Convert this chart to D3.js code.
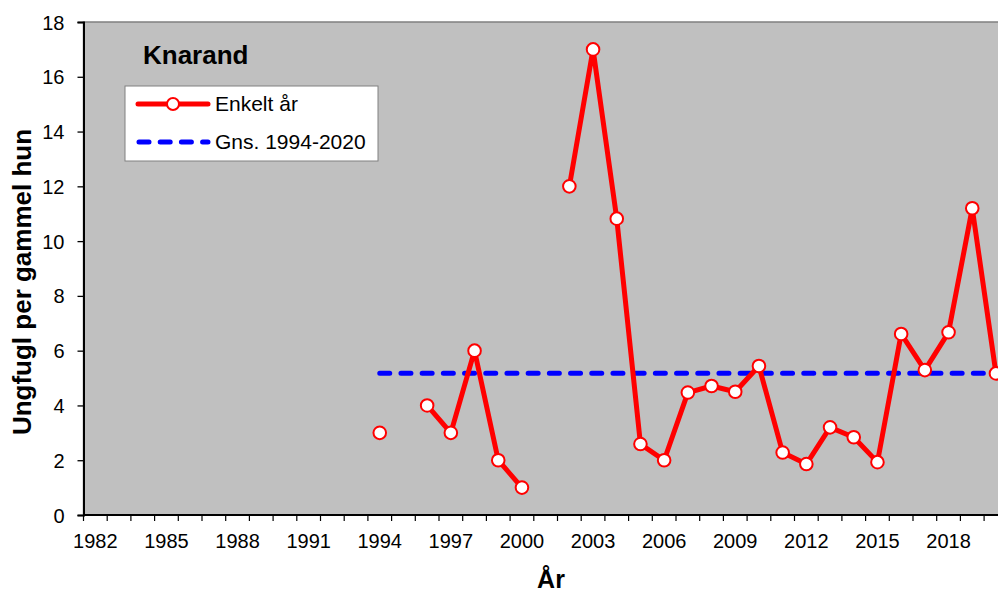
<!DOCTYPE html>
<html>
<head>
<meta charset="utf-8">
<script src="https://cdn.jsdelivr.net/npm/d3@7"></script>
<style>
  body { margin: 0; background: #fff; overflow: hidden; }
  text { font-family: "Liberation Sans", Arial, sans-serif; fill: #000; }
</style>
</head>
<body>
<div id="chart"></div>
<script>
// data (null = no data that year)
var years = d3.range(1982, 2021);
var yearsData = [1994, 1995, 1996, 1997, 1998, 1999, 2000, 2001, 2002, 2003, 2004, 2005, 2006, 2007,
  2008, 2009, 2010, 2011, 2012, 2013, 2014, 2015, 2016, 2017, 2018, 2019, 2020];
var youngPerHen = [3, null, 4, 3, 6, 2, 1, null, 12, 17, 10.82, 2.59, 2, 4.47,
  4.71, 4.5, 5.44, 2.28, 1.86, 3.2, 2.84, 1.93, 6.61, 5.29, 6.67, 11.2, 5.17];
var meanValue = 5.18;
var meanYears = [1994, 2020];
var yTicks = [0, 2, 4, 6, 8, 10, 12, 14, 16, 18];
var xLabelYears = [1982, 1985, 1988, 1991, 1994, 1997, 2000, 2003, 2006, 2009, 2012, 2015, 2018];

var svgWidth = 998;
var svgHeight = 595;

var chartMargin = { top: 22, left: 83.5 };
var chartWidth = years.length * 23.7;
var chartHeight = 493;

var svg = d3.select("#chart")
  .append("svg")
  .attr("width", svgWidth)
  .attr("height", svgHeight);

var chartGroup = svg.append("g")
  .attr("transform", `translate(${chartMargin.left}, ${chartMargin.top})`);

// category-style x scale (points in the middle of each year slot)
var xBand = d3.scaleBand()
  .domain(years)
  .range([0, chartWidth]);
var xPos = d => xBand(d) + xBand.bandwidth() / 2;

var yLinearScale = d3.scaleLinear()
  .domain([0, 18])
  .range([chartHeight, 0]);

// plot background
chartGroup.append("rect")
  .attr("x", 0)
  .attr("y", 0)
  .attr("width", chartWidth)
  .attr("height", chartHeight)
  .attr("fill", "#c0c0c0")
  .attr("stroke", "#808080")
  .attr("stroke-width", 1.5);

// y axis
var leftAxis = d3.axisLeft(yLinearScale)
  .tickValues(yTicks)
  .tickSize(6)
  .tickPadding(13);

var yAxis = chartGroup.append("g").call(leftAxis);
yAxis.select(".domain").attr("stroke", "#000").attr("stroke-width", 2);
yAxis.selectAll(".tick line").attr("stroke", "#000").attr("stroke-width", 1.3);
yAxis.selectAll("text").attr("font-size", 20).attr("dy", "0.35em");

// x axis: ticks at slot boundaries, labels every third year
var xAxis = chartGroup.append("g")
  .attr("transform", `translate(0, ${chartHeight})`);

xAxis.append("line")
  .attr("x1", 0)
  .attr("x2", chartWidth)
  .attr("stroke", "#000")
  .attr("stroke-width", 2);

xAxis.selectAll(".xtick")
  .data(years.concat([2021]))
  .enter()
  .append("line")
  .attr("class", "xtick")
  .attr("x1", d => d <= 2020 ? xBand(d) : chartWidth)
  .attr("x2", d => d <= 2020 ? xBand(d) : chartWidth)
  .attr("y1", 0)
  .attr("y2", 6)
  .attr("stroke", "#000")
  .attr("stroke-width", 1.2);

xAxis.selectAll(".xlabel")
  .data(xLabelYears)
  .enter()
  .append("text")
  .attr("class", "xlabel")
  .attr("x", d => xPos(d))
  .attr("y", 32.5)
  .attr("text-anchor", "middle")
  .attr("font-size", 20)
  .text(d => d);

// mean line
chartGroup.append("line")
  .attr("x1", xPos(meanYears[0]))
  .attr("x2", xPos(meanYears[1]))
  .attr("y1", yLinearScale(meanValue))
  .attr("y2", yLinearScale(meanValue))
  .attr("stroke", "#0000ff")
  .attr("stroke-width", 5)
  .attr("stroke-linecap", "round")
  .attr("stroke-dasharray", "10,11.2");

// yearly series
var series = yearsData.map((y, i) => ({ year: y, value: youngPerHen[i] }));

var line = d3.line()
  .defined(d => d.value !== null)
  .x(d => xPos(d.year))
  .y(d => yLinearScale(d.value));

chartGroup.append("path")
  .datum(series)
  .attr("d", line)
  .attr("fill", "none")
  .attr("stroke", "#ff0000")
  .attr("stroke-width", 5)
  .attr("stroke-linejoin", "round");

chartGroup.selectAll("circle")
  .data(series.filter(d => d.value !== null))
  .enter()
  .append("circle")
  .attr("cx", d => xPos(d.year))
  .attr("cy", d => yLinearScale(d.value))
  .attr("r", 6.3)
  .attr("fill", "#fff")
  .attr("stroke", "#ff0000")
  .attr("stroke-width", 2);

// title inside plot
svg.append("text")
  .attr("x", 143)
  .attr("y", 64)
  .attr("font-size", 26)
  .attr("font-weight", "bold")
  .text("Knarand");

// legend
var legend = svg.append("g");
legend.append("rect")
  .attr("x", 125)
  .attr("y", 86)
  .attr("width", 253)
  .attr("height", 75)
  .attr("fill", "#fff")
  .attr("stroke", "#808080")
  .attr("stroke-width", 1);

legend.append("line")
  .attr("x1", 138).attr("x2", 208)
  .attr("y1", 104).attr("y2", 104)
  .attr("stroke", "#ff0000")
  .attr("stroke-width", 5)
  .attr("stroke-linecap", "round");
legend.append("circle")
  .attr("cx", 173).attr("cy", 104).attr("r", 6)
  .attr("fill", "#fff").attr("stroke", "#ff0000").attr("stroke-width", 2);
legend.append("text")
  .attr("x", 215).attr("y", 111)
  .attr("font-size", 21)
  .text("Enkelt år");

legend.append("line")
  .attr("x1", 139).attr("x2", 208)
  .attr("y1", 142).attr("y2", 142)
  .attr("stroke", "#0000ff")
  .attr("stroke-width", 5)
  .attr("stroke-linecap", "round")
  .attr("stroke-dasharray", "10,11.2");
legend.append("text")
  .attr("x", 215).attr("y", 149)
  .attr("font-size", 21)
  .text("Gns. 1994-2020");

// axis titles
svg.append("text")
  .attr("transform", "translate(31, 282) rotate(-90)")
  .attr("text-anchor", "middle")
  .attr("font-size", 26)
  .attr("font-weight", "bold")
  .text("Ungfugl per gammel hun");

svg.append("text")
  .attr("x", 551)
  .attr("y", 588)
  .attr("text-anchor", "middle")
  .attr("font-size", 25)
  .attr("font-weight", "bold")
  .text("År");
</script>
</body>
</html>
